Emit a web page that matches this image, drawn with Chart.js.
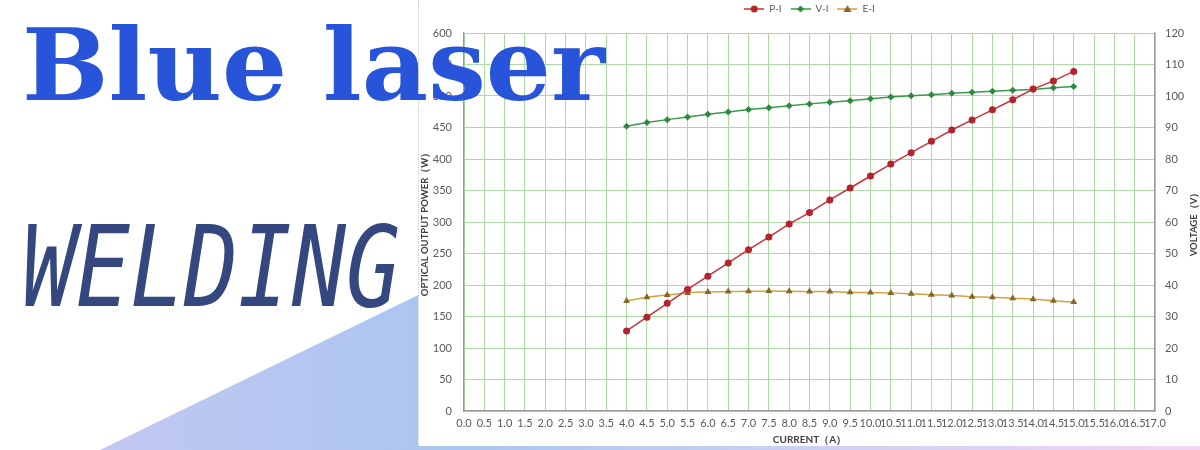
<!DOCTYPE html>
<html>
<head>
<meta charset="utf-8">
<script src="https://cdn.jsdelivr.net/npm/chart.js@4.4.1/dist/chart.umd.min.js"></script>
<style>
    html, body { margin: 0; padding: 0; background: #fff; }
    #page { position: relative; width: 1200px; height: 450px; overflow: hidden; background: #fff; }
    #wedge {
        position: absolute; left: 0; top: 0; width: 1200px; height: 450px;
        background: linear-gradient(to right, #c9c9f1 0%, #aac5f1 38%, #c6cff3 62%, #f3d6f2 100%);
        clip-path: polygon(100px 450px, 1200px -86px, 1200px 450px);
    }
    #chart-box {
        position: absolute; left: 418px; top: 0; width: 782px; height: 446px;
        background: #fff; border-left: 1px dotted #c8c8c8; box-sizing: border-box;
    }
    #deco { position: absolute; left: 0; top: 0; width: 1200px; height: 450px; pointer-events: none; }
</style>
</head>
<body>
<div id="page">
    <div id="wedge"></div>
    <div id="chart-box"><canvas id="pi-chart"></canvas></div>
    <svg id="deco" width="1200" height="450">
        <text x="22" y="100" textLength="583" lengthAdjust="spacingAndGlyphs"
              font-family="DejaVu Serif" font-weight="bold" font-size="100" fill="#2754d9">Blue laser</text>
        <text x="22" y="306" textLength="378" lengthAdjust="spacingAndGlyphs"
              font-family="DejaVu Sans Mono" font-style="italic" font-size="112" fill="#34487f">WELDING</text>
    </svg>
</div>
<script>
// === Chart data ===
const currentA = [4.0, 4.5, 5.0, 5.5, 6.0, 6.5, 7.0, 7.5, 8.0, 8.5, 9.0, 9.5,
                  10.0, 10.5, 11.0, 11.5, 12.0, 12.5, 13.0, 13.5, 14.0, 14.5, 15.0];
const powerW   = [127, 149, 171, 193, 214, 235, 256, 276, 297, 315, 335, 354,
                  373, 392, 410, 428, 446, 462, 478, 494, 511, 524, 539];
const voltageV = [90.4, 91.6, 92.5, 93.3, 94.2, 94.9, 95.7, 96.3, 96.9, 97.5, 98.0, 98.5,
                  99.1, 99.7, 100.1, 100.4, 100.9, 101.2, 101.5, 101.8, 102.1, 102.6, 103.0];
const effE     = [34.9, 36.1, 36.8, 37.5, 37.8, 37.9, 38.0, 38.1, 38.0, 37.9, 37.9, 37.7,
                  37.6, 37.5, 37.2, 36.9, 36.7, 36.3, 36.1, 35.8, 35.5, 35.0, 34.6];

const seriesNames = ['P-I', 'V-I', 'E-I'];
const xRange = { min: 0, max: 17, step: 0.5 };
const powerRange = { min: 0, max: 600, step: 50 };
const voltRange = { min: 0, max: 120, step: 10 };

const xTitle = 'CURRENT（A）';
const leftTitle = 'OPTICAL OUTPUT POWER（W）';
const rightTitle = 'VOLTAGE（V）';

const FONT = 'Lato, "Open Sans", sans-serif';
const TICK_COLOR = '#595959';
const GRID_GREEN = '#acd9a4';
const AXIS_GRAY = '#9a9a9a';

const toPoints = (ys) => currentA.map((x, i) => ({ x, y: ys[i] }));

// little "line + marker" swatch for the legend, like the Excel one
function legendSwatch(lineColor, markColor, style) {
    const c = document.createElement('canvas');
    c.width = 20; c.height = 10;
    const g = c.getContext('2d');
    g.strokeStyle = lineColor; g.lineWidth = 1.5;
    g.beginPath(); g.moveTo(0, 5); g.lineTo(20, 5); g.stroke();
    g.fillStyle = markColor;
    g.beginPath();
    if (style === 'circle') g.arc(10, 5, 3.5, 0, Math.PI * 2);
    else if (style === 'rectRot') { g.moveTo(10, 1.5); g.lineTo(13.5, 5); g.lineTo(10, 8.5); g.lineTo(6.5, 5); g.closePath(); }
    else { g.moveTo(10, 1); g.lineTo(14, 8); g.lineTo(6, 8); g.closePath(); }
    g.fill();
    return c;
}

const styles = [
    { line: '#c9323b', mark: '#b3242d', point: 'circle', r: 3.5 },
    { line: '#3a9a4a', mark: '#2d8a3c', point: 'rectRot', r: 3.5 },
    { line: '#d2a23f', mark: '#85672b', point: 'triangle', r: 4 }
];
const swatches = styles.map(s => legendSwatch(s.line, s.mark, s.point));

// fixed legend band height so the plot top lands where it should,
// and nudge the legend row up a little
const legendBand = {
    id: 'legendBand',
    beforeLayout(chart) {
        const lg = chart.legend;
        if (lg && !lg._banded) {
            const fit = lg.fit;
            lg.fit = function () { fit.call(this); this.height = 33; };
            const draw = lg.draw;
            lg.draw = function (...args) {
                this.ctx.save();
                this.ctx.translate(0, -5);
                draw.apply(this, args);
                this.ctx.restore();
            };
            lg._banded = true;
        }
    }
};

// right axis title reads bottom-to-top, same as the left one
const rightAxisTitle = {
    id: 'rightAxisTitle',
    afterDraw(chart) {
        const { ctx, chartArea } = chart;
        ctx.save();
        ctx.translate(chart.width - 6, (chartArea.top + chartArea.bottom) / 2);
        ctx.rotate(-Math.PI / 2);
        ctx.font = 'bold 9.5px ' + FONT;
        ctx.fillStyle = '#404040';
        ctx.textAlign = 'center';
        ctx.textBaseline = 'middle';
        ctx.fillText(rightTitle, 0, 0);
        ctx.restore();
    }
};

const ctx = document.getElementById('pi-chart');
new Chart(ctx, {
    type: 'line',
    data: {
        datasets: [
            {
                label: seriesNames[0], data: toPoints(powerW), yAxisID: 'yP',
                borderColor: styles[0].line, backgroundColor: styles[0].mark,
                pointStyle: styles[0].point, pointRadius: styles[0].r, pointBorderWidth: 0,
                borderWidth: 1.5, tension: 0
            },
            {
                label: seriesNames[1], data: toPoints(voltageV), yAxisID: 'yV',
                borderColor: styles[1].line, backgroundColor: styles[1].mark,
                pointStyle: styles[1].point, pointRadius: styles[1].r, pointBorderWidth: 0,
                borderWidth: 1.5, tension: 0
            },
            {
                label: seriesNames[2], data: toPoints(effE), yAxisID: 'yV',
                borderColor: styles[2].line, backgroundColor: styles[2].mark,
                pointStyle: styles[2].point, pointRadius: styles[2].r, pointBorderWidth: 0,
                borderWidth: 1.5, tension: 0.4
            }
        ]
    },
    options: {
        responsive: true,
        maintainAspectRatio: false,
        animation: false,
        layout: { padding: 0 },
        plugins: {
            tooltip: { enabled: false },
            legend: {
                position: 'top',
                labels: {
                    usePointStyle: true,
                    pointStyleWidth: 20,
                    padding: 9,
                    color: TICK_COLOR,
                    font: { family: FONT, size: 10 },
                    generateLabels: (chart) => chart.data.datasets.map((d, i) => ({
                        text: d.label,
                        pointStyle: swatches[i],
                        fillStyle: d.borderColor,
                        strokeStyle: d.borderColor,
                        lineWidth: 0,
                        fontColor: TICK_COLOR,
                        hidden: false,
                        datasetIndex: i
                    }))
                }
            }
        },
        scales: {
            x: {
                type: 'linear',
                min: xRange.min, max: xRange.max,
                afterFit: (s) => { s.height = 35; },
                ticks: {
                    stepSize: xRange.step, autoSkip: false, maxRotation: 0, minRotation: 0,
                    padding: 6, color: TICK_COLOR, font: { family: FONT, size: 11 },
                    callback: (v) => Number(v).toFixed(1)
                },
                grid: { color: GRID_GREEN, lineWidth: 1, drawTicks: false },
                border: { color: AXIS_GRAY, width: 1.2 },
                title: {
                    display: true, text: xTitle, color: '#404040',
                    font: { family: FONT, size: 10, weight: 'bold' },
                    padding: { top: 0, bottom: 0 }
                }
            },
            yP: {
                type: 'linear', position: 'left',
                min: powerRange.min, max: powerRange.max,
                afterFit: (s) => { s.width = 45; },
                ticks: {
                    stepSize: powerRange.step, padding: 12,
                    color: TICK_COLOR, font: { family: FONT, size: 11 }
                },
                grid: { color: GRID_GREEN, lineWidth: 1, drawTicks: false },
                border: { color: AXIS_GRAY, width: 1.2 },
                title: {
                    display: true, text: leftTitle, color: '#404040',
                    font: { family: FONT, size: 9.5, weight: 'bold' },
                    padding: { top: 0, bottom: 0 }
                }
            },
            yV: {
                type: 'linear', position: 'right',
                min: voltRange.min, max: voltRange.max,
                afterFit: (s) => { s.width = 45; },
                ticks: {
                    stepSize: voltRange.step, padding: 10,
                    color: TICK_COLOR, font: { family: FONT, size: 11 }
                },
                grid: { display: false, drawTicks: false },
                border: { color: AXIS_GRAY, width: 1.2 }
            }
        }
    },
    plugins: [legendBand, rightAxisTitle]
});
</script>
</body>
</html>
